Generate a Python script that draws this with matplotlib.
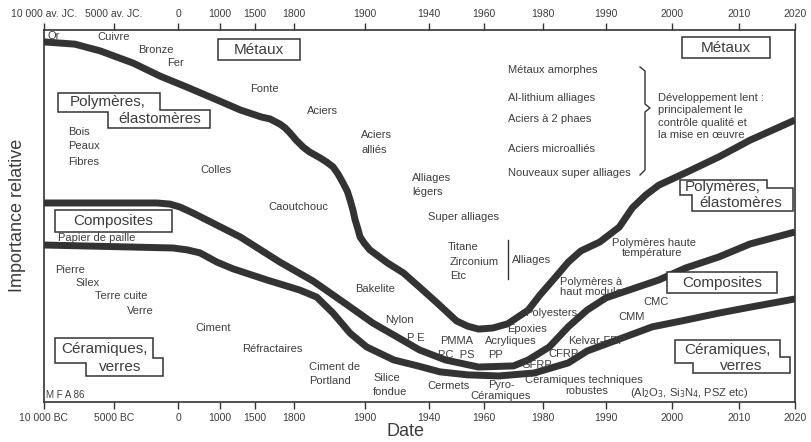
import numpy as np
import matplotlib.pyplot as plt
import matplotlib.transforms as mtransforms
from matplotlib.patches import Polygon

plt.rcParams['font.family'] = ['Liberation Sans', 'DejaVu Sans']

# axis ticks (years) and where they sit along the axis (the scale is not linear)
tick_years = [-10000, -5000, 0, 1000, 1500, 1800, 1900, 1940, 1960, 1980, 1990, 2000, 2010, 2020]
scale_px = [44, 114, 178, 220, 255, 294, 365, 429, 484, 543, 606, 672, 739, 795]
bottom_labels = ['10 000 BC', '5000 BC', '0', '1000', '1500', '1800', '1900', '1940',
                 '1960', '1980', '1990', '2000', '2010', '2020']
top_labels = ['10 000 av. JC.', '5000 av. JC.', '0', '1000', '1500', '1800', '1900', '1940',
              '1960', '1980', '1990', '2000', '2010', '2020']

# boundary metaux / polymeres
metal_years = [-10000, -7800, -6000, -3500, -1400, 200, 930, 1290, 1550, 1615, 1692, 1731, 1770,
               1803, 1813, 1822, 1837, 1846, 1855, 1862, 1869, 1875, 1879, 1883, 1886, 1890, 1893,
               1899, 1903, 1914, 1924, 1934, 1943, 1950, 1954, 1958, 1963, 1968, 1975,
               1979, 1982, 1984, 1986, 1989, 1992, 1994, 1996, 1998, 2002, 2007, 2012, 2020]
metal_vals = [96.8, 96.2, 94.4, 91.1, 87.6, 84.7, 81.2, 78.5, 76.6, 76.1, 74.7, 73.7, 72.3,
              70.4, 68.5, 67.2, 65.6, 64.5, 63.2, 61.3, 58.9, 56.7, 54.3, 51.6, 49.0, 46.5, 44.4,
              42.7, 40.9, 37.4, 34.7, 30.9, 26.6, 21.8, 20.4, 19.6, 19.9, 21.0, 24.7,
              28.8, 33.6, 37.6, 40.6, 43.0, 47.0, 52.2, 55.6, 58.3, 61.6, 65.9, 70.4, 75.8]

# boundary polymeres / composites
poly_years = [-10000, -1640, -626, 50, 357, 690, 1286, 1692, 1827, 1875, 1905, 1920, 1934, 1946,
              1958, 1970, 1975, 1981, 1984, 1987, 1990, 1994, 1998, 2002, 2007, 2012, 2020]
poly_vals = [53.5, 53.5, 53.2, 52.4, 50.8, 48.9, 44.4, 37.6, 32.5, 26.1, 21.2, 17.5, 14.0, 11.3,
             9.4, 9.7, 11.3, 14.8, 20.2, 24.7, 28.0, 30.4, 32.8, 36.0, 39.0, 42.5, 45.7]

# boundary composites / ceramiques
cer_years = [-10000, -390, 214, 520, 929, 1186, 1592, 1808, 1832, 1855, 1879, 1901, 1918, 1933,
             1944, 1954, 1965, 1977, 1984, 1987, 1992, 1997, 2002, 2007, 2012, 2020]
cer_vals = [42.2, 41.4, 40.9, 40.1, 37.6, 35.8, 32.8, 30.1, 28.2, 23.9, 18.5, 14.8, 11.3, 9.7,
            8.1, 7.3, 7.0, 7.8, 10.5, 13.7, 16.9, 20.2, 22.0, 23.9, 25.5, 27.7]


def fwd(x):
    return np.interp(x, tick_years, scale_px)


def inv(p):
    return np.interp(p, scale_px, tick_years)


W, H = 811, 442
fig = plt.figure(figsize=(W / 100, H / 100), dpi=100)
ax = fig.add_axes([44 / W, 1 - 402 / H, 751 / W, 372 / H])
px = mtransforms.Affine2D().scale(1 / W, -1 / H).translate(0, 1) + fig.transFigure

ink = '#333333'
txt = '#3d3d3d'

ax.set_xscale('function', functions=(fwd, inv))
ax.set_xlim(-10000, 2020)
ax.set_ylim(0, 100)
for yrs, vals in [(metal_years, metal_vals), (poly_years, poly_vals), (cer_years, cer_vals)]:
    ax.plot(yrs, vals, color=ink, lw=5, solid_joinstyle='round', solid_capstyle='butt', zorder=2)

ax.set_xticks(tick_years)
ax.set_xticklabels(bottom_labels, fontsize=7.5, color=txt)
ax.set_yticks([])
ax.tick_params(axis='x', direction='out', length=5, width=1, color=ink, pad=3)
for s in ax.spines.values():
    s.set_color(ink)
    s.set_linewidth(1.2)

top = ax.twiny()
top.set_xscale('function', functions=(fwd, inv))
top.set_xlim(-10000, 2020)
top.set_xticks(tick_years)
top.set_xticklabels(top_labels, fontsize=7.5, color=txt)
top.tick_params(axis='x', direction='out', length=5, width=1, color=ink, pad=3)
for s in top.spines.values():
    s.set_visible(False)

fig.text(405, 432, 'Date', transform=px, fontsize=13, color=txt, ha='center', va='center')
fig.text(18, 215, 'Importance relative', transform=px, fontsize=13, color=txt,
         rotation=90, ha='center', va='center')

# material names
labels = [
    ('Or', 47, 36, 'left'), ('Cuivre', 97, 37, 'left'), ('Bronze', 138, 50, 'left'),
    ('Fer', 167, 63, 'left'), ('Fonte', 250, 89, 'left'), ('Aciers', 307, 111, 'left'),
    ('Aciers', 361, 135, 'left'), ('alliés', 361, 150, 'left'),
    ('Alliages', 412, 178, 'left'), ('légers', 412, 192, 'left'),
    ('Super alliages', 428, 217, 'left'), ('Titane', 448, 247, 'left'),
    ('Zirconium', 450, 262, 'left'), ('Etc', 450, 276, 'left'), ('Alliages', 512, 260, 'left'),
    ('Métaux amorphes', 508, 70, 'left'), ('Al-lithium alliages', 508, 98, 'left'),
    ('Aciers à 2 phaes', 508, 119, 'left'), ('Aciers microalliés', 508, 149, 'left'),
    ('Nouveaux super alliages', 508, 173, 'left'),
    ('Développement lent :', 658, 98, 'left'), ('principalement le', 658, 110, 'left'),
    ('contrôle qualité et', 658, 123, 'left'), ('la mise en œuvre', 658, 135, 'left'),
    ('Bois', 68, 132, 'left'), ('Peaux', 68, 146, 'left'), ('Fibres', 68, 162, 'left'),
    ('Colles', 200, 170, 'left'), ('Caoutchouc', 268, 207, 'left'),
    ('Papier de paille', 58, 238, 'left'), ('Pierre', 55, 270, 'left'), ('Silex', 75, 283, 'left'),
    ('Terre cuite', 95, 296, 'left'), ('Verre', 127, 311, 'left'), ('Ciment', 195, 328, 'left'),
    ('Réfractaires', 242, 349, 'left'), ('Ciment de', 309, 367, 'left'), ('Portland', 309, 381, 'left'),
    ('Silice', 373, 378, 'left'), ('fondue', 373, 392, 'left'), ('Bakelite', 355, 289, 'left'),
    ('Nylon', 385, 320, 'left'), ('P E', 407, 338, 'left'), ('PMMA', 440, 341, 'left'),
    ('PC  PS', 438, 355, 'left'), ('Acryliques', 485, 341, 'left'), ('PP', 488, 355, 'left'),
    ('Epoxies', 507, 329, 'left'), ('Polyesters', 525, 313, 'left'), ('GFRP', 522, 365, 'left'),
    ('CFRP', 548, 354, 'left'), ('Kelvar-FRP', 568, 341, 'left'), ('CMM', 618, 317, 'left'),
    ('CMC', 643, 302, 'left'), ('Polymères à', 560, 282, 'left'), ('haut module', 560, 292, 'left'),
    ('Polymères haute', 612, 243, 'left'), ('température', 622, 253, 'left'),
    ('Cermets', 427, 386, 'left'), ('Pyro-', 488, 385, 'left'), ('Céramiques', 470, 396, 'left'),
    ('Céramiques techniques', 525, 380, 'left'), ('robustes', 565, 391, 'left'),
    ('(Al$_2$O$_3$, Si$_3$N$_4$, PSZ etc)', 630, 393, 'left'),
]
for s, x, y, ha in labels:
    fig.text(x, y, s, transform=px, fontsize=8, color=txt, ha=ha, va='center', zorder=5)
fig.text(46, 395, 'M F A 86', transform=px, fontsize=7, color=txt, ha='left', va='center')

# brackets
fig.add_artist(plt.Line2D([508, 508], [240, 279], transform=px, color=ink, lw=1))
fig.add_artist(plt.Line2D([640, 645, 645, 650, 645, 645, 640], [67, 71, 104, 108, 112, 170, 175],
                          transform=px, color=ink, lw=1))

# family boxes
rect_boxes = [
    ('Métaux', [(218, 39), (300, 39), (300, 60), (218, 60)], 259, 50),
    ('Métaux', [(682, 37), (770, 37), (770, 58), (682, 58)], 726, 48),
    ('Composites', [(55, 210), (172, 210), (172, 232), (55, 232)], 113, 221),
    ('Composites', [(667, 272), (777, 272), (777, 293), (667, 293)], 722, 283),
]
for s, pts, tx, ty in rect_boxes:
    fig.add_artist(Polygon(pts, closed=True, transform=px, fc='white', ec=ink, lw=1.1, zorder=4))
    fig.text(tx, ty, s, transform=px, fontsize=11, color=txt, ha='center', va='center', zorder=6)

step_boxes = [
    (['Polymères,', 'élastomères'],
     [(58, 93), (160, 93), (160, 110), (210, 110), (210, 128), (108, 128), (108, 112), (58, 112)],
     [(108, 102), (160, 119)]),
    (['Polymères,', 'élastomères'],
     [(680, 180), (767, 180), (767, 188), (793, 188), (793, 211), (692, 211), (692, 195), (680, 195)],
     [(723, 187), (741, 203)]),
    (['Céramiques,', 'verres'],
     [(55, 338), (153, 338), (153, 358), (163, 358), (163, 376), (86, 376), (86, 363), (55, 363)],
     [(104, 349), (120, 367)]),
    (['Céramiques,', 'verres'],
     [(675, 340), (780, 340), (780, 357), (790, 357), (790, 373), (693, 373), (693, 363), (675, 363)],
     [(727, 350), (741, 366)]),
]
for lines, pts, pos in step_boxes:
    fig.add_artist(Polygon(pts, closed=True, transform=px, fc='white', ec=ink, lw=1.1, zorder=4))
    for s, (tx, ty) in zip(lines, pos):
        fig.text(tx, ty, s, transform=px, fontsize=11, color=txt, ha='center', va='center', zorder=6)

fig.savefig('out.png', dpi=100)
